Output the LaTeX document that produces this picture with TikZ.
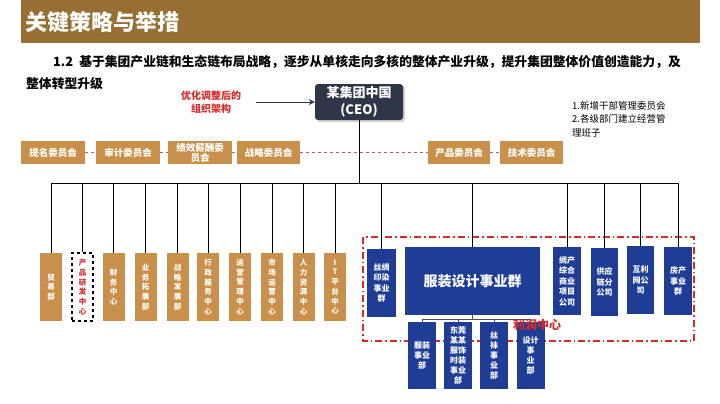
\documentclass[tikz,border=0pt]{standalone}
\usepackage{fontspec}
\setmainfont{Noto Sans CJK SC}
\usetikzlibrary{arrows.meta,shadows}
\definecolor{titlebrown}{HTML}{986F32}
\definecolor{tanc}{HTML}{C8904A}
\definecolor{bluec}{HTML}{1F3D95}
\definecolor{ceoc}{HTML}{2E3748}
\definecolor{redc}{HTML}{D42A2A}
\definecolor{dashc}{HTML}{B06060}
\begin{document}
\begin{tikzpicture}[x=1pt,y=-1pt,
  tanbox/.style={fill=tanc,text=white,inner sep=0pt,align=center,font={\bfseries\fontsize{7.5}{9.7}\selectfont},minimum width=22pt,minimum height=68pt},
  committee/.style={fill=tanc,text=white,inner sep=0pt,align=center,font={\bfseries\fontsize{9.5}{10.5}\selectfont},minimum height=23pt},
  bluebox/.style={fill=bluec,text=white,inner sep=0pt,align=center,font={\bfseries\fontsize{8}{10.5}\selectfont},minimum height=68pt},
  subbox/.style={fill=bluec,text=white,inner sep=0pt,align=center,font={\bfseries\fontsize{8}{10}\selectfont},minimum width=28pt,minimum height=67pt},
  conn/.style={draw=black,line width=0.8pt},
  comline/.style={draw=dashc,dashed,line width=0.8pt},
  frame/.style={draw=redc,line width=1.6pt,dash pattern=on 7pt off 3pt on 1.5pt off 3pt},
]
\fill[white] (0,0) rectangle (720,404);
\useasboundingbox (0,0) rectangle (720,404);

% title
\fill[titlebrown] (21,0) rectangle (700,43);
\node[anchor=west,inner sep=0pt,text=white,font={\bfseries\fontsize{22}{24}\selectfont}] (title) at (25,22) {关键策略与举措};
\node[anchor=west,inner sep=0pt,font={\bfseries\fontsize{12.8}{14}\selectfont}] (sub1) at (53,62) {1.2\hspace{6pt}基于集团产业链和生态链布局战略，逐步从单核走向多核的整体产业升级，提升集团整体价值创造能力，及};
\node[anchor=west,inner sep=0pt,font={\bfseries\fontsize{12.8}{14}\selectfont}] (sub2) at (26,84) {整体转型升级};

% CEO and label
\node[text=redc,align=center,inner sep=0pt,font={\bfseries\fontsize{10}{12.5}\selectfont}] (lab) at (211,102) {优化调整后的\\组织架构};
\node[fill=ceoc,rounded corners=3pt,minimum width=88pt,minimum height=36pt,text=white,align=center,inner sep=0pt,font={\bfseries\fontsize{13}{17}\selectfont},drop shadow={opacity=0.35,shadow xshift=2pt,shadow yshift=-2pt}] (ceo) at (359,102) {某集团中国\\(CEO)};
\coordinate (arrowstart) at (256,102);
\draw[-{Stealth[length=6pt,width=6pt]},line width=1pt,draw=ceoc] (arrowstart) -- (ceo.west);

\node[anchor=north west,align=left,inner sep=0pt,font={\fontsize{9.5}{13.5}\selectfont}] (note) at (572,101) {1.新增干部管理委员会\\2.各级部门建立经营管\\理班子};

% committees
\node[committee,minimum width=64pt] (c1) at (53,152.5) {提名委员会};
\node[committee,minimum width=64pt] (c2) at (128,152.5) {审计委员会};
\node[committee,minimum width=64pt,font={\bfseries\fontsize{9.5}{10}\selectfont}] (c3) at (200,152.5) {绩效薪酬委\\员会};
\node[committee,minimum width=63pt] (c4) at (268.5,152.5) {战略委员会};
\node[committee,minimum width=62pt] (c5) at (459,152.5) {产品委员会};
\node[committee,minimum width=63pt] (c6) at (531.5,152.5) {技术委员会};
\draw[comline] (c1.east) -- (c2.west);
\draw[comline] (c2.east) -- (c3.west);
\draw[comline] (c3.east) -- (c4.west);
\draw[comline] (c4.east) -- (c5.west);
\draw[comline] (c5.east) -- (c6.west);

% red frame (behind boxes)
\coordinate (frTL) at (363,237);
\coordinate (frBR) at (694,341);
\draw[frame] (frTL) rectangle (frBR);

% left boxes
\node[tanbox] (l1) at (51,287) {贸\\易\\部};
\node[draw=black,dashed,line width=1.5pt,fill=white,text=redc,inner sep=0pt,align=center,font={\bfseries\fontsize{7.5}{9.7}\selectfont},minimum width=21pt,minimum height=68pt] (l2) at (82.5,287) {产\\品\\研\\发\\中\\心};
\node[tanbox] (l3) at (113.5,287) {财\\务\\中\\心};
\node[tanbox] (l4) at (145.5,287) {业\\务\\拓\\展\\部};
\node[tanbox] (l5) at (177.5,287) {战\\略\\发\\展\\部};
\node[tanbox] (l6) at (208,287) {行\\政\\服\\务\\中\\心};
\node[tanbox] (l7) at (240,287) {运\\营\\管\\理\\中\\心};
\node[tanbox] (l8) at (272,287) {市\\场\\运\\营\\中\\心};
\node[tanbox] (l9) at (303.5,287) {人\\力\\资\\源\\中\\心};
\node[tanbox] (l10) at (335,287) {I\\T\\平\\台\\中\\心};

% right boxes
\node[bluebox,minimum width=29pt] (r1) at (381.5,283) {丝绸\\印染\\事业\\群};
\node[bluebox,minimum width=135pt,font={\bfseries\fontsize{14}{16}\selectfont}] (g) at (472.5,281) {服装设计事业群};
\node[bluebox,minimum width=28pt] (r3) at (567,281) {绸产\\综合\\商业\\项目\\公司};
\node[bluebox,minimum width=27pt] (r4) at (604.5,282) {供应\\链分\\公司};
\node[bluebox,minimum width=27pt] (r5) at (640.5,280) {互利\\网公\\司};
\node[bluebox,minimum width=28pt] (r6) at (678,281) {房产\\事业\\群};

% sub boxes
\node[subbox] (s1) at (422,355.5) {服装\\事业\\部};
\node[subbox] (s2) at (458,355.5) {东莞\\某某\\服饰\\时装\\事业\\部};
\node[subbox] (s3) at (494,355.5) {丝\\袜\\事\\业\\部};
\node[subbox] (s4) at (530.5,355.5) {设计\\事\\业\\部};

\node[text=redc,inner sep=0pt,font={\bfseries\fontsize{12}{14}\selectfont}] (profit) at (537,325) {利润中心};

% bus
\coordinate (bus) at (0,183);
\draw[conn] (l1.north |- bus) -- (r6.north |- bus);
\draw[conn] (ceo.south) -- (ceo.south |- bus);
\foreach \n in {l1,l2,l3,l4,l5,l6,l7,l8,l9,l10,r1,g,r3,r4,r5,r6}{
  \draw[conn] (\n.north |- bus) -- (\n.north);
}
% sub bracket
\coordinate (sb) at (0,319);
\draw[black!70,line width=0.8pt] (g.south) -- (g.south |- sb);
\draw[black!70,line width=0.8pt] (s1.north |- sb) -- (s4.north |- sb);
\foreach \n in {s1,s2,s3,s4}{
  \draw[black!70,line width=0.8pt] (\n.north |- sb) -- (\n.north);
}
\end{tikzpicture}
\end{document}
